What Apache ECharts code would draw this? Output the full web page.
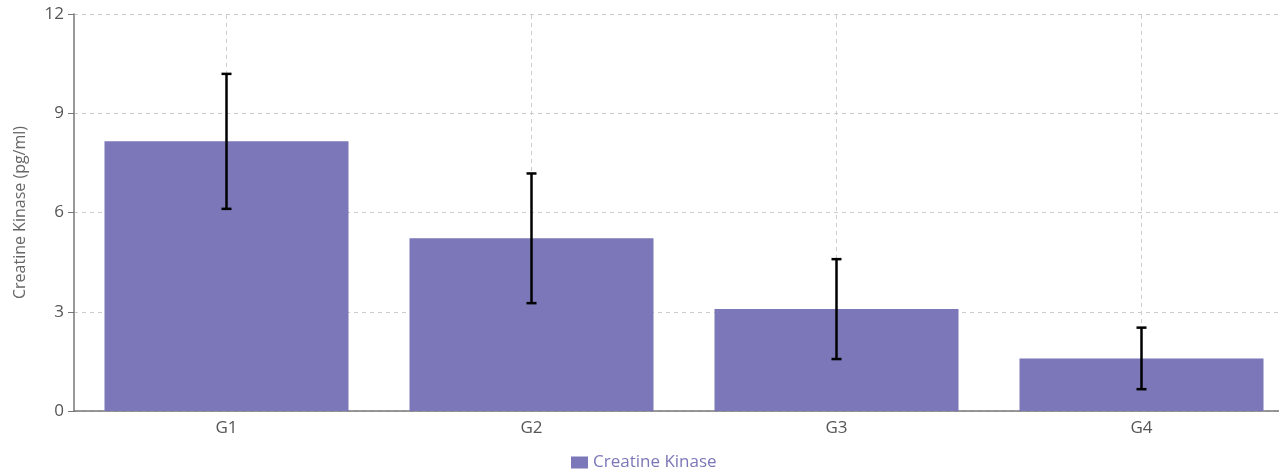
<!DOCTYPE html>
<html>
<head>
<meta charset="utf-8">
<script src="https://cdn.jsdelivr.net/npm/echarts@6/dist/echarts.min.js"></script>
<style>
  html, body { margin: 0; padding: 0; background: #fff; overflow: hidden; }
  #chart { width: 1300px; height: 471px; }
</style>
</head>
<body>
<div id="chart"></div>
<script>
// Groups and measured creatine kinase levels (mean ± SD)
const categories = ['G1', 'G2', 'G3', 'G4'];
const means = [8.15, 5.22, 3.08, 1.59];
const errors = [2.04, 1.96, 1.51, 0.93];
const yTicks = [0, 3, 6, 9, 12];
const seriesName = 'Creatine Kinase';
const yAxisTitle = 'Creatine Kinase (pg/ml)';

const barColor = '#7b77b8';
const font = '"Open Sans", "Noto Sans", sans-serif';

const errorData = categories.map((c, i) => [i, means[i] - errors[i], means[i] + errors[i]]);

const chart = echarts.init(document.getElementById('chart'), null, { renderer: 'canvas' });
chart.setOption({
  animation: false,
  textStyle: { fontFamily: font },
  grid: { left: 74, right: 6, top: 14, bottom: 60, containLabel: false },
  legend: {
    top: 449,
    left: 566,
    itemWidth: 17,
    itemHeight: 12,
    itemGap: 5,
    icon: 'rect',
    data: [seriesName],
    textStyle: { color: barColor, fontSize: 17, fontFamily: font }
  },
  xAxis: {
    type: 'category',
    data: categories,
    axisLine: { lineStyle: { color: '#777', width: 1.5 } },
    axisTick: { alignWithLabel: true, length: 6, lineStyle: { color: '#777' } },
    axisLabel: { color: '#555', fontSize: 17, margin: 9 },
    splitLine: { show: false }
  },
  yAxis: {
    type: 'value',
    min: yTicks[0],
    max: yTicks[yTicks.length - 1],
    interval: yTicks[1] - yTicks[0],
    name: yAxisTitle,
    nameLocation: 'middle',
    nameGap: 46,
    nameTextStyle: { color: '#666', fontSize: 16 },
    axisLine: { show: true, lineStyle: { color: '#777', width: 1.5 } },
    axisTick: { show: true, length: 6, lineStyle: { color: '#777' } },
    axisLabel: { color: '#555', fontSize: 17, margin: 10 },
    splitLine: { lineStyle: { color: '#ccc', type: [4, 4] } }
  },
  series: [
    {
      name: seriesName,
      type: 'bar',
      data: means,
      barCategoryGap: '20%',
      itemStyle: { color: barColor },
      markLine: {
        silent: true,
        symbol: 'none',
        label: { show: false },
        lineStyle: { color: '#ccc', type: [4, 4], width: 1 },
        data: categories.map(c => ({ xAxis: c })),
        z: 0
      },
      z: 2
    },
    {
      name: 'error',
      type: 'custom',
      data: errorData,
      z: 5,
      renderItem: function (params, api) {
        const x = api.value(0);
        const lo = api.coord([x, api.value(1)]);
        const hi = api.coord([x, api.value(2)]);
        const cap = 5;
        const style = { stroke: '#000', lineWidth: 2.5 };
        return {
          type: 'group',
          children: [
            { type: 'line', shape: { x1: lo[0], y1: lo[1], x2: hi[0], y2: hi[1] }, style: style },
            { type: 'line', shape: { x1: hi[0] - cap, y1: hi[1], x2: hi[0] + cap, y2: hi[1] }, style: style },
            { type: 'line', shape: { x1: lo[0] - cap, y1: lo[1], x2: lo[0] + cap, y2: lo[1] }, style: style }
          ]
        };
      }
    }
  ]
});
</script>
</body>
</html>
